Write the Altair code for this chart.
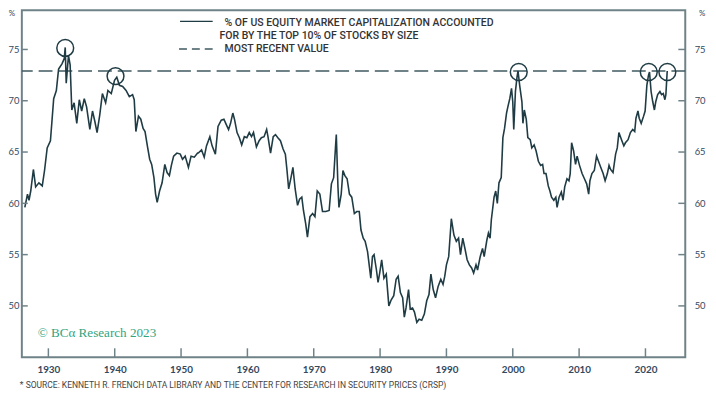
import altair as alt
import pandas as pd

# ---- data ----
years = [
    1926.45, 1926.85, 1927.08, 1927.34, 1927.74, 1928.08, 1928.57, 1929.08, 1929.42, 1929.82,
    1930.31, 1930.80, 1931.20, 1931.54, 1932.05, 1932.39, 1932.54, 1932.69, 1933.03, 1933.28,
    1933.53, 1933.88, 1934.28, 1934.66, 1935.02, 1935.41, 1935.76, 1936.25, 1936.65, 1937.00,
    1937.34, 1937.74, 1938.14, 1938.63, 1938.97, 1939.48, 1939.97, 1940.31, 1940.71, 1941.20,
    1941.71, 1942.20, 1942.69, 1942.94, 1943.19, 1943.58, 1943.93, 1944.28, 1944.57, 1944.92,
    1945.27, 1945.57, 1945.91, 1946.16, 1946.40, 1946.76, 1947.14, 1947.55, 1947.89, 1948.24,
    1948.54, 1948.88, 1949.37, 1949.88, 1950.22, 1950.62, 1951.11, 1951.51, 1952.00, 1952.49,
    1952.60, 1953.09, 1953.49, 1953.83, 1954.34, 1954.68, 1955.17, 1955.57, 1956.06, 1956.46,
    1956.80, 1957.16, 1957.46, 1957.80, 1958.05, 1958.44, 1958.79, 1959.14, 1959.54, 1959.92,
    1960.28, 1960.62, 1960.92, 1961.36, 1961.77, 1962.11, 1962.51, 1962.90, 1963.10, 1963.49,
    1963.89, 1964.23, 1964.59, 1964.98, 1965.38, 1965.72, 1965.97, 1966.22, 1966.57, 1966.86,
    1967.20, 1967.56, 1967.86, 1968.20, 1968.45, 1968.79, 1969.05, 1969.43, 1969.83, 1970.18,
    1970.53, 1970.92, 1971.32, 1971.81, 1972.32, 1972.66, 1973.00, 1973.30, 1973.40, 1973.65,
    1973.80, 1974.14, 1974.40, 1974.69, 1975.03, 1975.38, 1975.73, 1976.12, 1976.48, 1976.86,
    1977.12, 1977.46, 1977.75, 1978.11, 1978.60, 1978.85, 1979.09, 1979.45, 1979.69, 1979.94,
    1980.24, 1980.58, 1980.93, 1981.32, 1981.68, 1982.06, 1982.42, 1982.72, 1983.06, 1983.40,
    1983.65, 1983.91, 1984.29, 1984.54, 1984.89, 1985.18, 1985.54, 1985.88, 1986.28, 1986.67,
    1987.03, 1987.37, 1987.66, 1988.01, 1988.36, 1988.75, 1989.15, 1989.49, 1989.75, 1990.00,
    1990.34, 1990.74, 1991.13, 1991.49, 1991.83, 1992.12, 1992.46, 1992.82, 1993.12, 1993.46,
    1993.80, 1994.10, 1994.46, 1994.69, 1995.09, 1995.44, 1995.69, 1996.09, 1996.33, 1996.58,
    1996.77, 1997.18, 1997.43, 1997.67, 1997.92, 1998.26, 1998.51, 1998.76, 1999.06, 1999.26,
    1999.55, 1999.81, 2000.00, 2000.15, 2000.40, 2000.64, 2000.79, 2001.04, 2001.38, 2001.53,
    2001.74, 2002.03, 2002.27, 2002.63, 2002.87, 2003.22, 2003.52, 2003.86, 2004.20, 2004.50,
    2004.71, 2005.01, 2005.35, 2005.60, 2005.84, 2006.19, 2006.49, 2006.68, 2006.98, 2007.32,
    2007.58, 2007.83, 2008.17, 2008.47, 2008.66, 2008.87, 2009.17, 2009.46, 2009.70, 2010.06,
    2010.45, 2010.80, 2011.14, 2011.44, 2011.63, 2011.93, 2012.29, 2012.63, 2012.92, 2013.27,
    2013.62, 2013.92, 2014.26, 2014.51, 2014.75, 2015.11, 2015.50, 2015.75, 2016.00, 2016.39,
    2016.74, 2016.98, 2017.38, 2017.73, 2018.08, 2018.38, 2018.57, 2018.87, 2019.06, 2019.36,
    2019.72, 2019.95, 2020.21, 2020.46, 2020.61, 2020.85, 2021.10, 2021.35, 2021.55, 2021.84,
    2022.18, 2022.43, 2022.69, 2022.93, 2023.08, 2023.28,
]
share = [
    59.6, 60.9, 60.3, 61.2, 63.3, 61.6, 62.0, 61.7, 63.2, 65.4,
    66.1, 70.2, 71.0, 73.1, 73.6, 74.1, 75.2, 71.7, 74.4, 73.5,
    69.1, 69.8, 67.8, 70.1, 69.0, 70.2, 69.4, 67.2, 69.0, 68.0,
    66.9, 68.6, 70.7, 69.8, 71.0, 70.7, 72.0, 72.3, 71.5, 71.4,
    71.0, 70.4, 70.6, 70.1, 67.0, 68.5, 68.2, 67.3, 67.0, 65.6,
    64.3, 63.8, 62.5, 60.9, 60.1, 61.2, 62.0, 63.8, 63.0, 62.7,
    63.7, 64.6, 64.9, 64.8, 64.3, 64.6, 63.5, 64.6, 64.5, 64.9,
    64.9, 65.2, 64.5, 65.6, 66.5, 65.6, 64.8, 67.5, 68.1, 68.2,
    67.7, 67.2, 67.8, 68.8, 68.2, 66.9, 66.4, 65.7, 66.5, 66.4,
    66.9, 66.5, 66.9, 65.5, 66.1, 66.4, 66.5, 67.2, 66.5, 64.9,
    66.5, 66.7, 66.4, 66.1, 65.3, 64.8, 63.2, 61.4, 62.5, 63.5,
    61.4, 59.8, 60.4, 60.6, 59.3, 58.0, 56.7, 58.7, 59.0, 58.7,
    61.2, 60.9, 59.2, 59.2, 59.3, 61.9, 62.5, 65.7, 66.7, 61.6,
    59.6, 60.9, 63.2, 62.7, 62.4, 60.9, 60.6, 59.0, 59.2, 59.2,
    57.4, 56.6, 56.3, 55.3, 52.7, 54.8, 55.0, 53.5, 52.3, 53.2,
    54.5, 52.7, 53.1, 50.0, 50.6, 51.0, 52.6, 52.9, 51.3, 50.8,
    48.9, 49.8, 51.6, 49.7, 49.8, 49.4, 48.4, 48.7, 48.6, 49.2,
    50.5, 51.1, 53.1, 51.6, 50.8, 51.9, 52.6, 52.1, 52.9, 54.0,
    54.8, 58.5, 56.9, 56.3, 56.6, 55.0, 56.6, 55.5, 54.5, 54.0,
    53.7, 53.2, 54.0, 53.5, 54.8, 55.6, 54.8, 56.4, 57.1, 56.6,
    58.4, 60.6, 61.2, 60.0, 62.0, 62.5, 66.4, 67.3, 68.8, 69.4,
    70.2, 71.2, 69.9, 67.2, 70.9, 72.3, 72.9, 71.5, 69.9, 67.8,
    69.1, 68.2, 66.4, 66.2, 65.4, 65.7, 65.1, 64.1, 63.7, 63.8,
    62.9, 62.9, 61.7, 61.2, 60.6, 60.3, 60.6, 59.6, 60.6, 61.1,
    60.3, 61.6, 62.4, 62.2, 62.9, 65.9, 65.1, 63.8, 64.6, 63.7,
    62.9, 62.4, 61.9, 60.9, 62.2, 62.9, 63.2, 64.6, 64.1, 63.5,
    62.9, 62.2, 62.9, 63.7, 63.3, 63.0, 64.8, 65.4, 66.9, 66.2,
    65.6, 65.9, 66.2, 66.9, 67.2, 67.0, 68.3, 69.0, 68.3, 67.8,
    68.5, 69.0, 71.5, 72.5, 72.8, 70.9, 69.9, 69.1, 69.9, 70.6,
    70.9, 70.6, 70.7, 70.1, 70.6, 72.9,
]
most_recent = [72.9]
peak_years = [1932.54, 1940.12, 2000.9, 2020.5, 2023.3]
peak_values = [75.15, 72.4, 72.8, 72.8, 72.8]
x_ticks = [1930, 1940, 1950, 1960, 1970, 1980, 1990, 2000, 2010, 2020]
y_ticks = [50, 55, 60, 65, 70, 75]
legend_lines = ["% OF US EQUITY MARKET CAPITALIZATION ACCOUNTED",
                "FOR BY THE TOP 10% OF STOCKS BY SIZE",
                "MOST RECENT VALUE"]
unit_label = ["%"]
watermark = ["© BCα Research 2023"]
source_note = ["* SOURCE: KENNETH R. FRENCH DATA LIBRARY AND THE CENTER FOR RESEARCH IN SECURITY PRICES (CRSP)"]

# ---- styling ----
W, H = 671, 351
LINE = "#1f3b44"
FRAME = "#6f8287"
LABEL = "#34495e"
xs = alt.Scale(domain=[1926, 2026], nice=False, zero=False)
ys = alt.Scale(domain=[45, 78.83], nice=False, zero=False)

df = pd.DataFrame({"year": years, "share": share})

def one(col, vals):
    return pd.DataFrame({col: vals})

line = alt.Chart(df).mark_line(color=LINE, strokeWidth=1.6).encode(
    x=alt.X("year:Q", scale=xs, title=None,
            axis=alt.Axis(values=x_ticks, format="d", ticks=False, domain=False, grid=False,
                          labelPadding=7, labelFontSize=10, labelFontWeight="bold",
                          labelColor=LABEL, labelFont="Lato")),
    y=alt.Y("share:Q", scale=ys, title=None,
            axis=alt.Axis(orient="left", values=y_ticks, ticks=False, domain=False, grid=False,
                          labelPadding=3, labelFontSize=9.5, labelColor=LABEL, labelFont="Lato")),
)

recent = alt.Chart(one("v", most_recent)).mark_rule(
    color="#3f5a60", strokeWidth=1.5, strokeDash=[14, 6]
).encode(y=alt.Y("v:Q", scale=ys, axis=None))

peaks = alt.Chart(pd.DataFrame({"year": peak_years, "v": peak_values})).mark_point(
    shape="circle", size=290, filled=False, color=LINE, strokeWidth=1.5, opacity=1
).encode(x=alt.X("year:Q", scale=xs, axis=None), y=alt.Y("v:Q", scale=ys, axis=None))

xtick = alt.Chart(one("t", x_ticks)).mark_rule(color=FRAME, strokeWidth=1.5).encode(
    x=alt.X("t:Q", scale=xs, axis=None), y=alt.value(H), y2=alt.value(H - 9))

ltick = alt.Chart(one("t", y_ticks)).mark_rule(color=FRAME, strokeWidth=1.5).encode(
    y=alt.Y("t:Q", scale=ys, axis=None), x=alt.value(0), x2=alt.value(6))

rtick = alt.Chart(one("t", y_ticks)).mark_rule(color=FRAME, strokeWidth=1.5).encode(
    y=alt.Y("t:Q", scale=ys, title=None,
            axis=alt.Axis(orient="right", values=y_ticks, ticks=False, domain=False, grid=False,
                          labelPadding=9, labelFontSize=9.5, labelColor=LABEL, labelFont="Lato")),
    x=alt.value(W), x2=alt.value(W - 7))

leg_solid = alt.Chart(one("a", [0])).mark_rule(color=LINE, strokeWidth=1.4).encode(
    x=alt.value(160), x2=alt.value(193), y=alt.value(11.3))
leg_dash = alt.Chart(one("a", [0])).mark_rule(color="#3f5a60", strokeWidth=1.5, strokeDash=[8, 5]).encode(
    x=alt.value(159), x2=alt.value(193), y=alt.value(39.3))

def txt(vals, x, y, **kw):
    return alt.Chart(one("t", vals)).mark_text(align="left", baseline="middle", **kw).encode(
        x=alt.value(x), y=alt.value(y), text="t:N")

legfont = dict(font="Roboto", fontSize=10.6, fontWeight=500, color="#333333")
leg1 = txt([legend_lines[0]], 205, 13, **legfont)
leg2 = txt([legend_lines[1]], 200, 26.3, **legfont)
leg3 = txt([legend_lines[2]], 205, 39.7, **legfont)

pct_l = alt.Chart(one("t", unit_label)).mark_text(align="center", baseline="top", fontSize=8,
                                                   color=LABEL, font="Lato").encode(
    x=alt.value(-10), y=alt.value(0), text="t:N")
pct_r = alt.Chart(one("t", unit_label)).mark_text(align="center", baseline="top", fontSize=8,
                                                   color=LABEL, font="Lato").encode(
    x=alt.value(688), y=alt.value(0), text="t:N")

wm = txt(watermark, 16, 327, font="Liberation Serif", fontSize=13.3, color="#2fa57f")
src = txt(source_note, -2, 378.7, font="Roboto", fontSize=8.6, color="#444444")

chart = alt.layer(
    recent, line, peaks, xtick, ltick, rtick,
    leg_solid, leg_dash, leg1, leg2, leg3, pct_l, pct_r, wm, src
).resolve_axis(x="independent", y="independent").properties(
    width=W, height=H,
    autosize=alt.AutoSizeParams(type="none"),
    padding={"left": 14, "top": 0, "right": 23, "bottom": 32},
    background="white",
).configure_view(stroke=FRAME, strokeWidth=2)

chart.save("out.html", embed_options={"renderer": "svg", "actions": False})
